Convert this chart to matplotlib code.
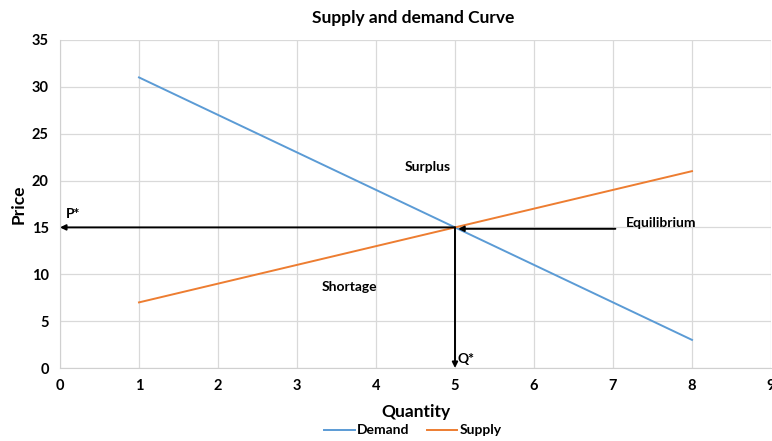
import matplotlib
matplotlib.use("Agg")
import matplotlib.pyplot as plt

quantity = [1, 2, 3, 4, 5, 6, 7, 8]
demand = [31, 27, 23, 19, 15, 11, 7, 3]
supply = [7, 9, 11, 13, 15, 17, 19, 21]
eq_q, eq_p = 5, 15

plt.rcParams['font.family'] = ['Lato', 'DejaVu Sans']

fig = plt.figure(figsize=(7.72, 4.41), dpi=100)
ax = fig.add_axes([0.0777, 0.1655, 0.921, 0.744])

ax.plot(quantity, demand, color='#5b9bd5', lw=1.4, label='Demand')
ax.plot(quantity, supply, color='#ed7d31', lw=1.4, label='Supply')

ax.set_xlim(0, 9)
ax.set_ylim(0, 35)
ax.set_xticks(range(0, 10))
ax.set_yticks(range(0, 36, 5))
ax.grid(True, color='#d9d9d9', lw=0.9)
ax.set_axisbelow(True)
for s in ['top', 'right']:
    ax.spines[s].set_visible(False)
for s in ['left', 'bottom']:
    ax.spines[s].set_color('#d0d0d0')
ax.tick_params(length=0, labelsize=10.5, pad=8)
for lbl in ax.get_xticklabels() + ax.get_yticklabels():
    lbl.set_fontweight('bold')

ax.set_xlabel('Quantity', fontsize=12.5, fontweight='bold', labelpad=8)
ax.set_ylabel('Price', fontsize=12.5, fontweight='bold', labelpad=4)
fig.suptitle('Supply and demand Curve', x=0.535, y=0.978, fontsize=12.5,
             fontweight='bold')

arrow = dict(arrowstyle='-|>', color='black', lw=1.4, mutation_scale=8,
             shrinkA=0, shrinkB=0)
ax.annotate('', xy=(0.0, eq_p), xytext=(eq_q, eq_p), arrowprops=arrow)
ax.annotate('', xy=(eq_q, 0.0), xytext=(eq_q, eq_p), arrowprops=arrow)
ax.annotate('', xy=(eq_q + 0.04, 14.85), xytext=(7.03, 14.85), arrowprops=arrow)

txt = dict(fontsize=10, fontweight='bold')
ax.text(7.16, 15.5, 'Equilibrium', ha='left', va='center', **txt)
ax.text(0.07, 16.4, 'P*', ha='left', va='center', **txt)
ax.text(5.03, 1.0, 'Q*', ha='left', va='center', **txt)
ax.text(4.65, 21.4, 'Surplus', ha='center', va='center', **txt)
ax.text(3.66, 8.6, 'Shortage', ha='center', va='center', **txt)

leg = fig.legend(loc='lower center', bbox_to_anchor=(0.535, -0.018), ncol=2,
                 frameon=False, fontsize=10, handlelength=2.2,
                 handletextpad=0.2, columnspacing=1.2)
for t in leg.get_texts():
    t.set_fontweight('bold')

fig.savefig('out.png', dpi=100)
